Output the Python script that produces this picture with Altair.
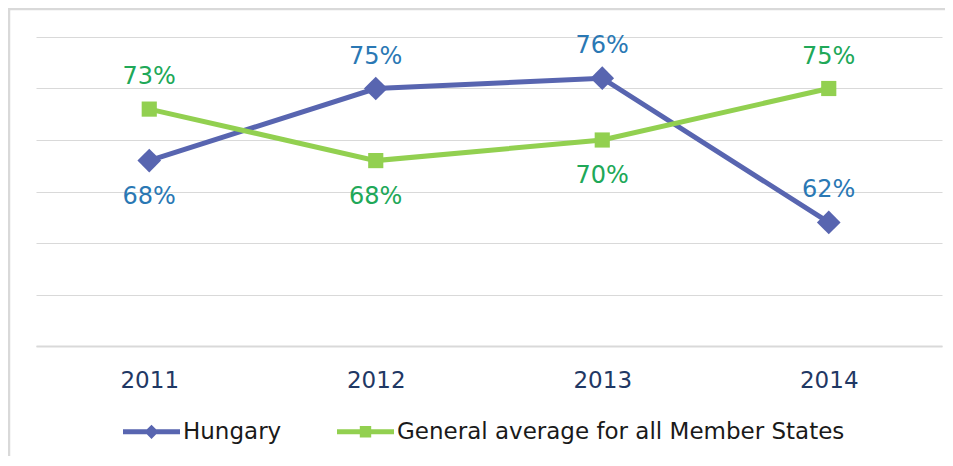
import altair as alt
import pandas as pd

years = ["2011", "2012", "2013", "2014"]
series_names = ["Hungary", "General average for all Member States"]
hungary = [68, 75, 76, 62]
average = [73, 68, 70, 75]
hungary_pos = ["below", "above", "above", "above"]
average_pos = ["above", "below", "below", "above"]

rows = []
for y, v, p in zip(years, hungary, hungary_pos):
    rows.append({"year": y, "series": series_names[0], "value": v, "pos": p, "label": f"{v}%"})
for y, v, p in zip(years, average, average_pos):
    rows.append({"year": y, "series": series_names[1], "value": v, "pos": p, "label": f"{v}%"})
df = pd.DataFrame(rows)

FONT = "DejaVu Sans"
LINE_BLUE = "#5865B0"
LINE_GREEN = "#92D050"
TXT_BLUE = "#2A78B4"
TXT_GREEN = "#20A858"

x_enc = alt.X("year:O", scale=alt.Scale(type="point", padding=0.5), sort=years,
              axis=alt.Axis(title=None, labelAngle=0, labelFont=FONT, labelFontSize=23,
                            labelColor="#1F3864", labelPadding=23, ticks=False,
                            domainColor="#D9D9D9", domainWidth=2, grid=False))
y_enc = alt.Y("value:Q", scale=alt.Scale(domain=[50, 80], nice=False, zero=False),
              axis=alt.Axis(title=None, labels=False, ticks=False, domain=False,
                            values=[50, 55, 60, 65, 70, 75, 80],
                            gridColor="#D9D9D9", gridWidth=1.2))

base = alt.Chart(df)
is_h = alt.datum.series == series_names[0]
is_a = alt.datum.series == series_names[1]

border = alt.Chart(pd.DataFrame({"a": [0]})).mark_rect(
    fill=None, stroke="#D9D9D9", strokeWidth=2.5, clip=False
).encode(x=alt.value(-27), x2=alt.value(930), y=alt.value(-28), y2=alt.value(440))

line_h = base.transform_filter(is_h).mark_line(strokeWidth=5, color=LINE_BLUE).encode(x=x_enc, y=y_enc)
line_a = base.transform_filter(is_a).mark_line(strokeWidth=5, color=LINE_GREEN).encode(x=x_enc, y=y_enc)

pts_h = base.transform_filter(is_h).mark_point(
    shape="diamond", filled=True, size=560, opacity=1, color=LINE_BLUE
).encode(x=x_enc, y=y_enc)

pts_a = base.transform_filter(is_a).mark_point(
    shape="square", filled=True, size=230, opacity=1, color=LINE_GREEN
).encode(x=x_enc, y=y_enc)

txt_color = alt.condition(is_h, alt.value(TXT_BLUE), alt.value(TXT_GREEN))

txt_above = base.transform_filter(alt.datum.pos == "above").mark_text(
    font=FONT, fontSize=24, dy=-32, baseline="middle"
).encode(x=x_enc, y=y_enc, text="label:N", color=txt_color)

txt_below = base.transform_filter(alt.datum.pos == "below").mark_text(
    font=FONT, fontSize=24, dy=36, baseline="middle"
).encode(x=x_enc, y=y_enc, text="label:N", color=txt_color)

path_h = "M-1,-0.09L1,-0.09L1,0.09L-1,0.09Z M0,-0.25L0.25,0L0,0.25L-0.25,0Z"
path_a = "M-1,-0.09L1,-0.09L1,0.09L-1,0.09Z M-0.2,-0.2L0.2,-0.2L0.2,0.2L-0.2,0.2Z"

# legend-only layer: no rows reach it, the scale domains are explicit
legend_layer = base.transform_filter(alt.datum.value < 0).mark_point(filled=True, opacity=1).encode(
    x=x_enc, y=y_enc,
    color=alt.Color("series:N", scale=alt.Scale(domain=series_names, range=[LINE_BLUE, LINE_GREEN]),
                    legend=alt.Legend(title=None, orient="none", direction="horizontal",
                                      legendX=87, legendY=366,
                                      labelFont=FONT, labelFontSize=23, labelColor="#1A1A1A",
                                      labelOffset=3, columnPadding=55,
                                      symbolSize=3249, symbolOpacity=1, symbolStrokeWidth=0,
                                      labelLimit=1000)),
    shape=alt.Shape("series:N", scale=alt.Scale(domain=series_names, range=[path_h, path_a]),
                    legend=alt.Legend(title=None, orient="none", direction="horizontal",
                                      legendX=87, legendY=366,
                                      labelFont=FONT, labelFontSize=23, labelColor="#1A1A1A",
                                      labelOffset=3, columnPadding=55,
                                      symbolSize=3249, symbolOpacity=1, symbolStrokeWidth=0,
                                      labelLimit=1000)),
)

chart = alt.layer(border, line_h, line_a, pts_h, pts_a, txt_above, txt_below, legend_layer).properties(
    width=906, height=309,
    autosize=alt.AutoSizeParams(type="none"),
    padding={"left": 28, "top": 29, "right": 3, "bottom": 110},
).configure(background="white", view=alt.ViewConfig(stroke=None))

chart.save("out.html", embed_options={"renderer": "svg", "actions": False})
